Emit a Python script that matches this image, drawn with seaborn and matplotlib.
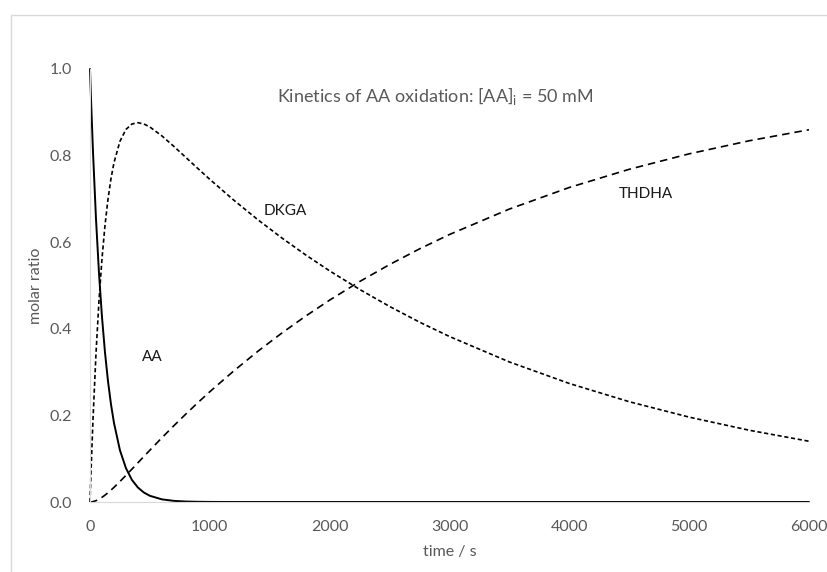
import matplotlib
matplotlib.use("Agg")
import matplotlib.pyplot as plt
import seaborn as sns
import pandas as pd
from matplotlib.patches import Rectangle

time_s = [0, 10, 25, 50, 75, 100, 125, 150, 175, 200, 250, 300, 350, 400, 450, 500,
          600, 700, 800, 900, 1000, 1200, 1400, 1600, 1800, 2000, 2250, 2500, 2750,
          3000, 3500, 4000, 4500, 5000, 5500, 6000]
aa = [1.0, 0.9185, 0.8086, 0.6538, 0.5286, 0.4274, 0.3456, 0.2794, 0.2259, 0.1827,
      0.1194, 0.0781, 0.0510, 0.0334, 0.0218, 0.0143, 0.0061, 0.0026, 0.0011, 0.0005,
      0.0002, 0.0, 0.0, 0.0, 0.0, 0.0, 0.0, 0.0, 0.0, 0.0, 0.0, 0.0, 0.0, 0.0, 0.0, 0.0]
dkga = [0.0, 0.0814, 0.1906, 0.3431, 0.4649, 0.5618, 0.6386, 0.6992, 0.7467, 0.7835,
        0.8332, 0.8604, 0.8730, 0.8760, 0.8730, 0.8660, 0.8455, 0.8212, 0.7957, 0.7702,
        0.7451, 0.6971, 0.6521, 0.6100, 0.5706, 0.5337, 0.4910, 0.4516, 0.4154, 0.3822,
        0.3234, 0.2737, 0.2316, 0.1960, 0.1658, 0.1403]
thdha = [0.0, 0.0001, 0.0008, 0.0031, 0.0065, 0.0108, 0.0158, 0.0214, 0.0274, 0.0338,
         0.0474, 0.0615, 0.0760, 0.0906, 0.1052, 0.1197, 0.1484, 0.1762, 0.2032, 0.2294,
         0.2547, 0.3028, 0.3479, 0.3900, 0.4294, 0.4663, 0.5091, 0.5484, 0.5846, 0.6178,
         0.6766, 0.7264, 0.7684, 0.8041, 0.8342, 0.8597]
x_ticks = [0, 1000, 2000, 3000, 4000, 5000, 6000]
y_ticks = [0.0, 0.2, 0.4, 0.6, 0.8, 1.0]

sns.set_style("white")
plt.rcParams['font.family'] = ['Lato', 'DejaVu Sans']

df = pd.DataFrame({"time": time_s, "AA": aa, "DKGA": dkga, "THDHA": thdha})

W, H = 827, 572
fig = plt.figure(figsize=(W / 100, H / 100), dpi=100)
ax = fig.add_axes([90 / W, 1 - 502 / H, 719 / W, 433 / H])

sns.lineplot(data=df, x="time", y="AA", ax=ax, color="black", lw=1.4, clip_on=False)
sns.lineplot(data=df, x="time", y="DKGA", ax=ax, color="black", lw=1.2,
             clip_on=False).lines[-1].set_dashes((2.5, 1.6))
sns.lineplot(data=df, x="time", y="THDHA", ax=ax, color="black", lw=1.2,
             clip_on=False).lines[-1].set_dashes((4.5, 3))

ax.set_xlim(0, 6000)
ax.set_ylim(0, 1.0)
ax.set_xticks(x_ticks)
ax.set_yticks(y_ticks)
ax.set_yticklabels([f"{v:.1f}" for v in y_ticks])
ax.tick_params(length=0, labelsize=11.5, labelcolor="#595959", pad=13)

for s in ["top", "right"]:
    ax.spines[s].set_visible(False)
for s in ["left", "bottom"]:
    ax.spines[s].set_color("#d9d9d9")
    ax.spines[s].set_linewidth(0.8)

ax.set_xlabel("time / s", fontsize=11.5, color="#595959")
ax.set_ylabel("molar ratio", fontsize=11.5, color="#595959")
ax.xaxis.set_label_coords(0.5, -0.10)
ax.yaxis.set_label_coords(-0.065, 0.5)

ax.text(4200, 0.9375, "Kinetics of AA oxidation: [AA]$_\\mathregular{i}$ = 50 mM",
        ha="right", va="center", fontsize=13, color="#595959")
ax.text(1450, 0.672, "DKGA", ha="left", va="center", fontsize=11, color="#1a1a1a")
ax.text(4416, 0.711, "THDHA", ha="left", va="center", fontsize=11, color="#1a1a1a")
ax.text(520, 0.335, "AA", ha="center", va="center", fontsize=11, color="#1a1a1a")

fig.add_artist(Rectangle((10.5 / W, -0.05), 1.2, (H - 14.5) / H + 0.05,
                         transform=fig.transFigure, fill=False,
                         ec="#d9d9d9", lw=1.0))

fig.savefig("out.png", dpi=100)
